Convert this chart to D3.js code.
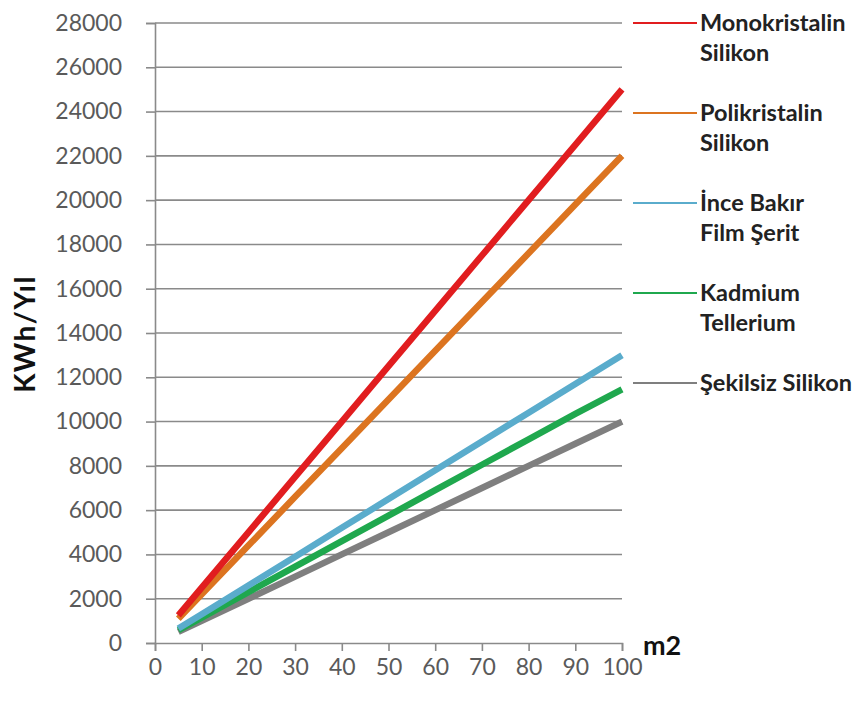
<!DOCTYPE html>
<html>
<head>
<meta charset="utf-8">
<script src="https://cdn.jsdelivr.net/npm/d3@7"></script>
<style>
	body { margin: 0; background: #fff; }
	svg { display: block; }
	.tick text { font-family: Lato, sans-serif; }
</style>
</head>
<body>
<div id="chart"></div>
<script>
// data
const xValues = [5, 10, 20, 30, 40, 50, 60, 70, 80, 90, 100];
const monokristalin = [1250, 2500, 5000, 7500, 10000, 12500, 15000, 17500, 20000, 22500, 25000];
const polikristalin = [1100, 2200, 4400, 6600, 8800, 11000, 13200, 15400, 17600, 19800, 22000];
const inceBakir = [650, 1300, 2600, 3900, 5200, 6500, 7800, 9100, 10400, 11700, 13000];
const kadmium = [575, 1150, 2300, 3450, 4600, 5750, 6900, 8050, 9200, 10350, 11450];
const sekilsiz = [500, 1000, 2000, 3000, 4000, 5000, 6000, 7000, 8000, 9000, 10000];

const seriesNames = [['Monokristalin', 'Silikon'], ['Polikristalin', 'Silikon'], ['İnce Bakır', 'Film Şerit'], ['Kadmium', 'Tellerium'], ['Şekilsiz Silikon']];
const seriesValues = [monokristalin, polikristalin, inceBakir, kadmium, sekilsiz];
const seriesColors = ['#e11d1f', '#dc7420', '#5aaccc', '#1fa84e', '#7f7f7f'];

const xTicks = [0, 10, 20, 30, 40, 50, 60, 70, 80, 90, 100];
const yTicks = d3.range(0, 28001, 2000);

const width = 864, height = 709;
const m = { left: 155, right: 242, top: 23, bottom: 66 };

const svg = d3.select('#chart').append('svg')
	.attr('width', width)
	.attr('height', height);

const xScale = d3.scaleLinear().domain([0, 100]).range([m.left, width - m.right]);
const yScale = d3.scaleLinear().domain([0, 28000]).range([height - m.bottom, m.top]);

//gridlines
svg.append('g')
	.selectAll('line')
	.data(yTicks.filter(d => d > 0))
	.join('line')
		.attr('x1', m.left)
		.attr('x2', width - m.right)
		.attr('y1', d => yScale(d))
		.attr('y2', d => yScale(d))
		.style('stroke', '#8a8a8a')
		.style('stroke-width', 1.6);

//y axis
const yAxis = svg.append('g')
	.attr('transform', 'translate(' + m.left + ',0)')
	.call(d3.axisLeft(yScale).tickValues(yTicks).tickSize(9).tickPadding(24).tickFormat(d3.format('d')));
yAxis.selectAll('text').style('font-size', '23px').style('fill', '#5a5a5a');

//x axis
const xAxis = svg.append('g')
	.attr('transform', 'translate(0,' + (height - m.bottom) + ')')
	.call(d3.axisBottom(xScale).tickValues(xTicks).tickSize(8).tickPadding(8));
xAxis.selectAll('text').style('font-size', '23px').style('fill', '#5a5a5a');

svg.selectAll('.domain, .tick line')
	.style('stroke', '#8a8a8a')
	.style('stroke-width', 1.6);

//lines
const valueLine = d3.line()
	.x((d, i) => xScale(xValues[i]))
	.y(d => yScale(d));

svg.append('g')
	.selectAll('path')
	.data(seriesValues.slice().reverse())
	.join('path')
		.attr('d', valueLine)
		.attr('fill', 'none')
		.style('stroke', (d, i) => seriesColors[seriesColors.length - 1 - i])
		.style('stroke-width', 6.5)
		.style('stroke-linecap', 'butt');

//axis titles
svg.append('text')
	.attr('transform', 'translate(35,334) rotate(-90)')
	.attr('text-anchor', 'middle')
	.style('font-family', 'Lato, sans-serif')
	.style('font-weight', 'bold')
	.style('font-size', '28px')
	.style('letter-spacing', '1.5px')
	.style('fill', '#111')
	.text('KWh/Yıl');

svg.append('text')
	.attr('x', 643)
	.attr('y', 655)
	.style('font-family', 'Lato, sans-serif')
	.style('font-weight', 'bold')
	.style('font-size', '27px')
	.style('fill', '#111')
	.text('m2');

//legend
const legendY = d3.scalePoint().domain(d3.range(seriesNames.length)).range([23, 383]);
const legend = svg.append('g')
	.selectAll('g')
	.data(seriesNames)
	.join('g')
		.attr('transform', (d, i) => 'translate(633,' + legendY(i) + ')');

legend.append('line')
	.attr('x1', 0)
	.attr('x2', 64)
	.style('stroke', (d, i) => seriesColors[i])
	.style('stroke-width', 2);

legend.selectAll('text')
	.data(d => d)
	.join('text')
		.attr('x', 67)
		.attr('y', (d, i) => 8 + i * 30)
		.style('font-family', 'Lato, sans-serif')
		.style('font-weight', 'bold')
		.style('font-size', '23.5px')
		.style('fill', '#222')
		.text(d => d);
</script>
</body>
</html>
